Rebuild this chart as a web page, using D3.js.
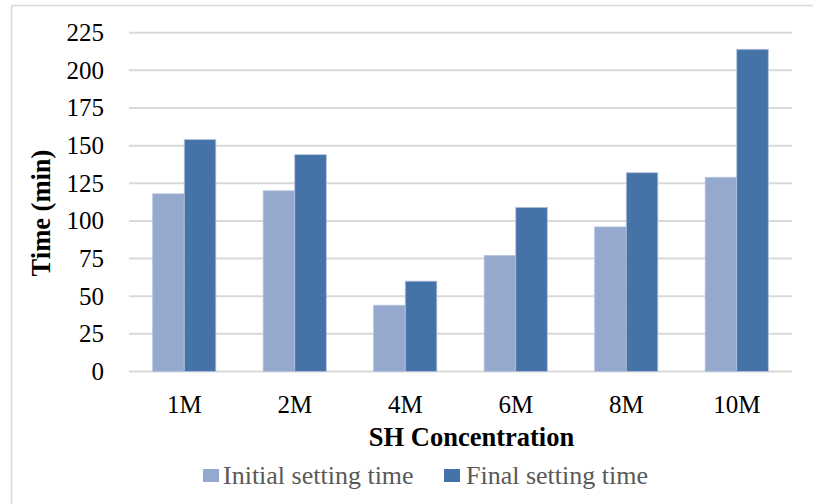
<!DOCTYPE html>
<html><head><meta charset="utf-8">
<script src="https://cdn.jsdelivr.net/npm/d3@7"></script>
<style>body{margin:0;background:#fff}svg{display:block}</style>
</head><body><svg id="c" width="813" height="504"></svg>
<script>
const categories = ["1M","2M","4M","6M","8M","10M"];
const initialTime = [118,120,44,77,96,129];
const finalTime = [154,144,60,109,132,214];
const seriesNames = ["Initial setting time","Final setting time"];
const yTicks = [0,25,50,75,100,125,150,175,200,225];
const colors = ["#95A9CF","#4573A7"];

const svg = d3.select("#c");
const font = "'Liberation Serif','Times New Roman',serif";
svg.append("rect").attr("x",11.5).attr("y",5.5).attr("width",820).attr("height",520)
  .attr("fill","#fff").attr("stroke","#D9D9D9").attr("stroke-width",1.5);

const L=129, R=792, T=32.7, B=371.5;
const x = d3.scaleBand().domain(categories).range([L,R]).paddingInner(150/(150+200)).paddingOuter(75/(350));
const x0 = d3.scaleBand().domain(categories).range([L,R]);
const y = d3.scaleLinear().domain([0,225]).range([B,T]);

const g = svg.append("g");
g.selectAll("line.grid").data(yTicks).join("line")
  .attr("x1",L).attr("x2",R).attr("y1",d=>y(d)).attr("y2",d=>y(d))
  .attr("stroke","#D9D9D9").attr("stroke-width",2);

const yAxis = d3.axisLeft(y).tickValues(yTicks).tickSize(0).tickPadding(25);
const ya = svg.append("g").attr("transform",`translate(${L},0)`).call(yAxis);
ya.select(".domain").remove();
ya.selectAll("text").attr("font-family",font).attr("font-size",25).attr("fill","#000");

const bw = x0.bandwidth()*200/350/2;
const series = [initialTime, finalTime];
series.forEach((vals,si)=>{
  g.selectAll("rect.s"+si).data(categories).join("rect")
    .attr("x",(d)=>x0(d)+x0.bandwidth()/2 - bw + si*bw)
    .attr("y",(d,i)=>y(vals[i]))
    .attr("width",bw)
    .attr("height",(d,i)=>B-y(vals[i]))
    .attr("fill",colors[si])
    .attr("stroke","#B4C3DE").attr("stroke-width",0.8);
});

const xAxis = d3.axisBottom(x0).tickSize(0).tickPadding(24);
const xa = svg.append("g").attr("transform",`translate(0,${B})`).call(xAxis);
xa.select(".domain").remove();
xa.selectAll("text").attr("font-family",font).attr("font-size",25).attr("fill","#000");

svg.append("text").attr("x",(L+R)/2 + 11).attr("y",446).attr("text-anchor","middle")
  .attr("font-family",font).attr("font-size",26.5).attr("font-weight","bold").text("SH Concentration");

svg.append("text").attr("transform","translate(50,213) rotate(-90)").attr("text-anchor","middle")
  .attr("font-family",font).attr("font-size",26.5).attr("font-weight","bold").text("Time (min)");

const leg = [{x:203,tx:223},{x:444,tx:466}];
seriesNames.forEach((n,i)=>{
  svg.append("rect").attr("x",leg[i].x).attr("y",469).attr("width",16).attr("height",13).attr("fill",colors[i]);
  svg.append("text").attr("x",leg[i].tx).attr("y",484).attr("font-family",font).attr("font-size",26)
    .attr("fill","#595959").text(n);
});
</script></body></html>
